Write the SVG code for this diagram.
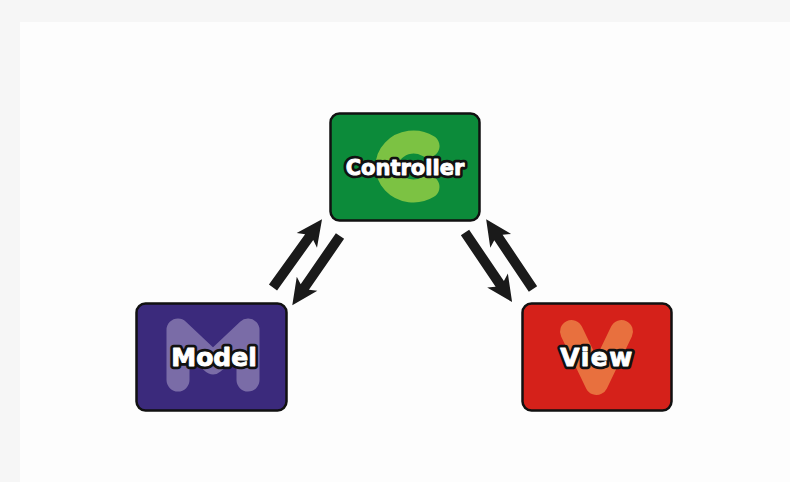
<svg xmlns="http://www.w3.org/2000/svg" xmlns:xlink="http://www.w3.org/1999/xlink" width="790" height="482" viewBox="0 0 790 482">
<style>
.box{stroke:#111;stroke-width:2.5}
.glyph{fill:none;stroke-linecap:round;stroke-linejoin:round;stroke-width:23}
.lbl{font-family:"DejaVu Sans","Liberation Sans",sans-serif;font-weight:bold;fill:#fff;text-anchor:middle;stroke-linejoin:round}
.halo{stroke:#111;stroke-width:6.5}
.face{stroke:#fff;stroke-width:0.9}
.arrow{fill:#1a1a1a}
</style>
<defs>
<path id="arr" d="M0,-5 L62,-5 L58,-12.5 L84,0 L58,12.5 L62,5 L0,5 Z"/>
</defs>
<rect x="0" y="0" width="790" height="482" fill="#f6f6f6"/>
<rect x="20" y="22" width="770" height="460" fill="#fdfdfd"/>
<g id="controller">
<rect class="box" x="330.5" y="113.5" width="149" height="107" rx="9" fill="#0c8b3a"/>
<path class="glyph" d="M428,146 A26.5,24.5 0 1 0 428,187" stroke="#7cc243" stroke-width="24"/>
<text class="lbl halo" x="405" y="175" font-size="21">Controller</text>
<text class="lbl face" x="405" y="175" font-size="21">Controller</text>
</g>
<g id="model">
<rect class="box" x="136.5" y="303.5" width="150" height="107" rx="9" fill="#3b2a7c"/>
<path class="glyph" d="M178,380 L178,330 L213,363 L248,330 L248,380" stroke="#7a6ca7"/>
<text class="lbl halo" x="214" y="366" font-size="25">Model</text>
<text class="lbl face" x="214" y="366" font-size="25">Model</text>
</g>
<g id="view">
<rect class="box" x="522.5" y="303.5" width="149" height="107" rx="9" fill="#d5211a"/>
<path class="glyph" d="M571.5,331.5 L596.5,383.5 L621.5,331.5" stroke="#e8703e"/>
<text class="lbl halo" x="597" y="366" font-size="25" letter-spacing="1.5">View</text>
<text class="lbl face" x="597" y="366" font-size="25" letter-spacing="1.5">View</text>
</g>
<g id="connectors" class="arrow">
<use xlink:href="#arr" href="#arr" transform="translate(273,287.5) rotate(-54.3)"/>
<use xlink:href="#arr" href="#arr" transform="translate(340,236) rotate(124.6)"/>
<use xlink:href="#arr" href="#arr" transform="translate(465,232.5) rotate(55.9)"/>
<use xlink:href="#arr" href="#arr" transform="translate(533,289) rotate(-123.9)"/>
</g>
</svg>
